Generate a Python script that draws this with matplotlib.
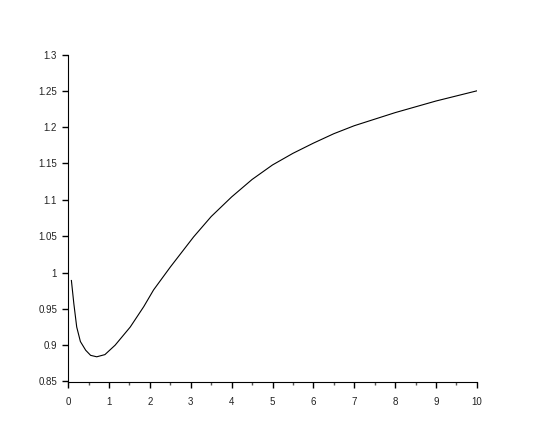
import matplotlib
matplotlib.use("Agg")
import matplotlib.pyplot as plt
from matplotlib.ticker import MultipleLocator, FuncFormatter

# values
x_vals = [0.08, 0.14, 0.21, 0.30, 0.43, 0.55, 0.70, 0.90, 1.15, 1.52, 1.85,
          2.09, 2.5, 3.07, 3.5, 4.0, 4.5, 5.0, 5.5, 6.0, 6.5, 7.0, 7.5, 8.0,
          8.5, 9.0, 9.5, 10.0]
y_vals = [0.989, 0.957, 0.925, 0.905, 0.893, 0.886, 0.884, 0.887, 0.900, 0.925,
          0.953, 0.976, 1.0075, 1.049, 1.077, 1.104, 1.128, 1.148, 1.164, 1.178,
          1.191, 1.202, 1.211, 1.220, 1.228, 1.236, 1.243, 1.250]

plt.rcParams['font.family'] = ['Liberation Sans', 'DejaVu Sans']

fig = plt.figure(figsize=(5.45, 4.36), dpi=100)
ax = fig.add_axes([0.125, 0.125, 0.75, 0.75])

ax.plot(x_vals, y_vals, color='black', linewidth=0.8)

ax.set_xlim(0, 10)
ax.set_ylim(0.85, 1.3)

ax.spines['top'].set_visible(False)
ax.spines['right'].set_visible(False)

ax.xaxis.set_major_locator(MultipleLocator(1))
ax.xaxis.set_minor_locator(MultipleLocator(0.5))
ax.yaxis.set_major_locator(MultipleLocator(0.05))
ax.yaxis.set_major_formatter(FuncFormatter(lambda v, p: "%g" % round(v, 2)))

ax.tick_params(axis='both', which='major', direction='out', length=4, width=1,
               labelsize=7, pad=4, color='black', labelcolor='#222222')
ax.tick_params(axis='x', which='major', pad=7)
ax.tick_params(axis='x', which='minor', direction='out', length=2, width=1, color='#555555')

fig.savefig("out.png", dpi=100)
